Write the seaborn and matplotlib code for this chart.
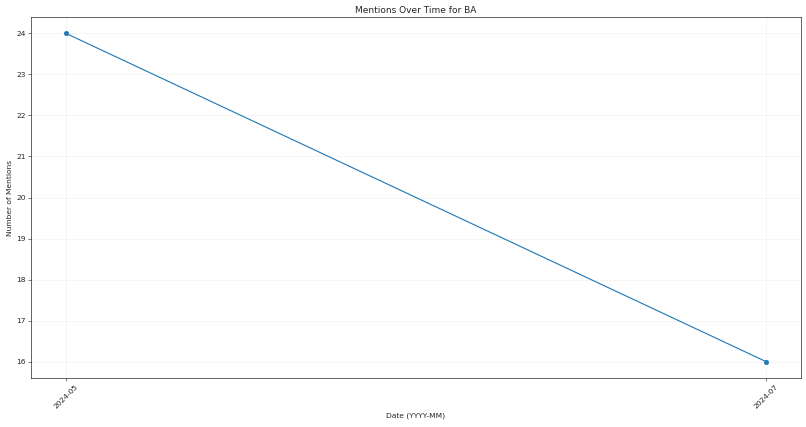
import matplotlib
matplotlib.use("Agg")
import matplotlib.pyplot as plt
import seaborn as sns
import pandas as pd

dates = ["2024-05", "2024-07"]
mentions = [24, 16]

sns.set_style("ticks")
plt.rcParams['font.family'] = ['DejaVu Sans']

df = pd.DataFrame({"date": dates, "mentions": mentions})

dpi = 806 / 15
fig = plt.figure(figsize=(806 / dpi, 427 / dpi), dpi=dpi)
ax = fig.add_axes([31 / 806, 1 - 378 / 427, 770 / 806, 361 / 427])
sns.lineplot(data=df, x="date", y="mentions", marker="o", color="#1f77b4",
             markeredgecolor="#1f77b4", markersize=6, linewidth=1.5, sort=False, ax=ax)
ax.set_title("Mentions Over Time for BA", fontsize=12)
ax.set_xlabel("Date (YYYY-MM)", fontsize=10)
ax.set_ylabel("Number of Mentions", fontsize=10)
ax.tick_params(axis="both", labelsize=10, direction="out", length=3.5, width=0.8)
plt.setp(ax.get_xticklabels(), rotation=45)
ax.grid(True, alpha=0.3)
for s in ax.spines.values():
    s.set_color("black")
    s.set_linewidth(0.8)
ax.margins(x=0.05, y=0.05)
fig.savefig("out.png", dpi=dpi)
